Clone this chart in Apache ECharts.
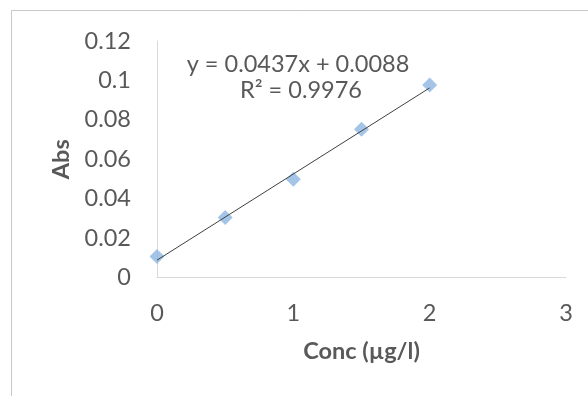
<!DOCTYPE html>
<html>
<head>
<meta charset="utf-8">
<script src="https://cdn.jsdelivr.net/npm/echarts@6/dist/echarts.min.js"></script>
<style>
html,body{margin:0;padding:0;background:#fff;}
#chart{width:588px;height:396px;}
</style>
</head>
<body>
<div id="chart"></div>
<script>
// Data
const concValues = [0, 0.5, 1, 1.5, 2];
const absValues = [0.0106, 0.0305, 0.0498, 0.0752, 0.0977];
const trendSlope = 0.0437;
const trendIntercept = 0.0088;
const trendRange = [0, 2];
const equationText = 'y = 0.0437x + 0.0088';
const r2Text = 'R² = 0.9976';
const xTitle = 'Conc (µg/l)';
const yTitle = 'Abs';

const points = concValues.map((x, i) => [x, absValues[i]]);
const trendPoints = trendRange.map(x => [x, trendSlope * x + trendIntercept]);

const FONT = 'Lato, "Open Sans", sans-serif';
const TXT = '#595959';
const FS = 23.5;

const chart = echarts.init(document.getElementById('chart'), null, {renderer: 'canvas'});
chart.setOption({
  animation: false,
  backgroundColor: '#fff',
  grid: {left: 157, right: 22, top: 41, bottom: 118.5, containLabel: false},
  xAxis: {
    type: 'value', min: 0, max: 3, interval: 1,
    name: xTitle, nameLocation: 'middle', nameGap: 62,
    nameTextStyle: {fontFamily: FONT, fontSize: FS, fontWeight: 'bold', color: TXT},
    axisLine: {show: true, lineStyle: {color: '#d9d9d9', width: 1}},
    axisTick: {show: false},
    splitLine: {show: false},
    axisLabel: {fontFamily: FONT, fontSize: FS, color: TXT, margin: 24}
  },
  yAxis: {
    type: 'value', min: 0, max: 0.12, interval: 0.02,
    name: yTitle, nameLocation: 'middle', nameGap: 84, nameRotate: 90,
    nameTextStyle: {fontFamily: FONT, fontSize: FS, fontWeight: 'bold', color: TXT},
    axisLine: {show: true, lineStyle: {color: '#d9d9d9', width: 1}},
    axisTick: {show: false},
    splitLine: {show: false},
    axisLabel: {fontFamily: FONT, fontSize: FS, color: TXT, margin: 26,
      formatter: v => String(+v.toFixed(4))}
  },
  graphic: [
    {type: 'rect', z: -10, shape: {x: 11.5, y: 10.5, width: 700, height: 500},
     style: {fill: 'none', stroke: '#c8c8c8', lineWidth: 1}},
    {type: 'text', x: 298, y: 64,
     style: {text: equationText, font: FS + 'px ' + FONT, fill: TXT, textAlign: 'center', textVerticalAlign: 'middle'}},
    {type: 'text', x: 301, y: 90,
     style: {text: r2Text, font: FS + 'px ' + FONT, fill: TXT, textAlign: 'center', textVerticalAlign: 'middle'}}
  ],
  series: [
    {
      type: 'line', data: trendPoints, symbol: 'none',
      lineStyle: {color: '#404040', width: 1}, z: 3
    },
    {
      type: 'scatter', data: points, symbol: 'diamond', symbolSize: 15,
      itemStyle: {color: '#8db6e2'}, z: 2
    }
  ]
});
</script>
</body>
</html>
